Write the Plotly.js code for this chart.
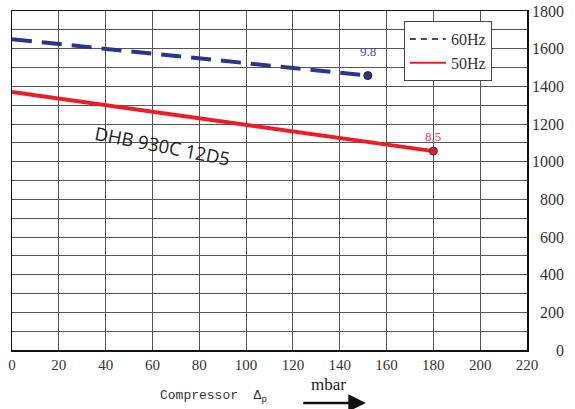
<!DOCTYPE html>
<html><head><meta charset="utf-8">
<script src="https://cdn.plot.ly/plotly-3.0.1.min.js"></script>
<style>body{margin:0;background:#fff}#c{width:575px;height:409px}</style>
</head><body><div id="c"></div>
<script>
const seriesNames = ['60Hz', '50Hz'];
const x60 = [0, 152];
const y60 = [1650, 1457];
const x50 = [0, 180];
const y50 = [1370, 1056];
const endLabel60 = '9.8';
const endLabel50 = '8.5';
const xTicks = [0,20,40,60,80,100,120,140,160,180,200,220];
const yTicks = [0,200,400,600,800,1000,1200,1400,1600,1800];
const modelName = 'DHB 930C 12D5';

const blue = '#2b3590', red = '#ee1c25';
const traces = [
  {x:x60, y:y60, name:seriesNames[0], legendgroup:'a', showlegend:false, mode:'lines', line:{color:blue, width:4, dash:'20px,10px'}},
  {x:x50, y:y50, name:seriesNames[1], legendgroup:'b', showlegend:false, mode:'lines', line:{color:red, width:4}},
  {x:[x60[x60.length-1]], y:[y60[y60.length-1]], mode:'markers', showlegend:false, marker:{color:blue, size:8, line:{color:'#222', width:1}}},
  {x:[x50[x50.length-1]], y:[y50[y50.length-1]], mode:'markers', showlegend:false, marker:{color:red, size:8, line:{color:'#333', width:1}}},
  {x:[null], y:[null], name:seriesNames[0], legendgroup:'a', mode:'lines', line:{color:'#3a48a0', width:2, dash:'6px,5px'}},
  {x:[null], y:[null], name:seriesNames[1], legendgroup:'b', mode:'lines', line:{color:red, width:2}}
];
const ann = [];
yTicks.forEach(v => ann.push({xref:'paper', yref:'y', x:1.0757, y:v, xanchor:'right', yanchor:'middle', text:String(v), showarrow:false, font:{family:'Liberation Serif', size:16, color:'#333'}}));
ann.push({x:x60[x60.length-1], y:y60[y60.length-1]+128, yanchor:'middle', text:endLabel60, showarrow:false, font:{family:'Liberation Serif', size:13, color:'#3f4fb0'}});
ann.push({x:x50[x50.length-1], y:y50[y50.length-1]+80, yanchor:'middle', text:endLabel50, showarrow:false, font:{family:'Liberation Serif', size:13, color:'#f0404c'}});
ann.push({x:64.5, y:1086, text:modelName, textangle:11, showarrow:false, font:{family:'Open Sans', size:18.5, color:'#222'}});
ann.push({xref:'paper', yref:'paper', x:0.391, y:-0.136, xanchor:'center', yanchor:'middle', text:'Compressor  Δ<sub>p</sub>', showarrow:false, font:{family:'Liberation Mono', size:13, color:'#333'}});
ann.push({xref:'paper', yref:'paper', x:0.614, y:-0.103, xanchor:'center', yanchor:'middle', text:'mbar', showarrow:false, font:{family:'Liberation Serif', size:17, color:'#222'}});
ann.push({xref:'paper', yref:'paper', x:0.687, y:-0.156, ax:-64, ay:0, text:'', showarrow:true, arrowhead:2, arrowsize:1.4, arrowwidth:2.5, arrowcolor:'#111'});

const layout = {
  width:575, height:409,
  margin:{l:12, r:48, t:11, b:59},
  paper_bgcolor:'#fff', plot_bgcolor:'#fff',
  showlegend:true,
  legend:{x:0.761, y:0.97, xanchor:'left', yanchor:'top', bgcolor:'#fff', bordercolor:'#444', borderwidth:1,
    font:{family:'Liberation Serif', size:16, color:'#333'}, tracegroupgap:0, itemwidth:36},
  xaxis:{range:[0,220], tickvals:xTicks, showgrid:true, gridcolor:'#555', gridwidth:1,
    showline:true, linecolor:'#111', linewidth:1.5, mirror:true, zeroline:false, ticks:'',
    tickfont:{family:'Liberation Serif', size:15, color:'#333'}, fixedrange:true},
  yaxis:{range:[0,1800], tickvals:yTicks, showticklabels:false, showgrid:true, gridcolor:'#555', gridwidth:1,
    minor:{dtick:100, showgrid:true, gridcolor:'#555', gridwidth:1},
    showline:true, linecolor:'#111', linewidth:1.5, mirror:true, zeroline:false, ticks:'', fixedrange:true},
  annotations:ann
};
Plotly.newPlot('c', traces, layout, {displayModeBar:false, staticPlot:true});
</script></body></html>
